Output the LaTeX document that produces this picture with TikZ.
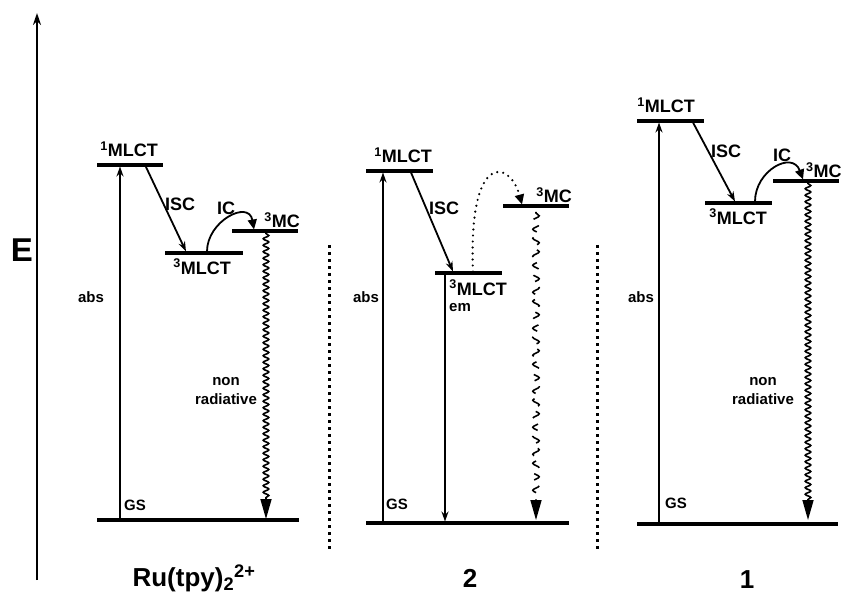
\documentclass[tikz,border=0pt]{standalone}
\usepackage{fontspec}
\setmainfont{Liberation Sans}
\usetikzlibrary{arrows.meta,decorations.pathmorphing}
\begin{document}
\begin{tikzpicture}[x=1pt,y=-1pt,
  level/.style={line width=3.2pt},
  trans/.style={line width=1.8pt,-{Stealth[length=10pt,width=7pt]}},
  wavy/.style={line width=1.6pt, decorate,
    decoration={snake,amplitude=2.8pt,segment length=6.5pt,post length=19pt,pre length=1pt},
    -{Triangle[length=20pt,width=11pt]}},
  icarrow/.style={line width=1.8pt,-{Triangle[length=10pt,width=9pt]}},
  lab/.style={font=\fontsize{18}{18}\selectfont\bfseries, inner sep=0pt},
  small/.style={font=\fontsize{15}{19}\selectfont\bfseries, inner sep=0pt, align=center},
  big/.style={font=\fontsize{26}{26}\selectfont\bfseries, inner sep=0pt},
  sep/.style={line width=3pt, dash pattern=on 3pt off 4pt},
]
\useasboundingbox (0,0) rectangle (841,596);

% energy axis
\coordinate (axB) at (37,580);
\coordinate (axT) at (37,13);
\draw[line width=1.8pt,-{Stealth[length=12pt,width=8pt]}] (axB) -- (axT);
\node[font=\fontsize{33}{33}\selectfont\bfseries, inner sep=0pt] (E) at (22,250) {E};

% separators
\coordinate (s1t) at (329,245); \coordinate (s1b) at (329,552);
\coordinate (s2t) at (597,245); \coordinate (s2b) at (597,552);
\draw[sep] (s1t) -- (s1b);
\draw[sep] (s2t) -- (s2b);

%%%%%%%% Panel 1
\coordinate (a1) at (97,165);  \coordinate (a2) at (163,165);
\coordinate (b1) at (165,253); \coordinate (b2) at (243,253);
\coordinate (c1) at (232,231); \coordinate (c2) at (298,231);
\coordinate (g1) at (97,520);  \coordinate (g2) at (299,520);
\draw[level] (a1) -- (a2);
\draw[level] (b1) -- (b2);
\draw[level] (c1) -- (c2);
\draw[level] (g1) -- (g2);
\node[lab,anchor=south] (A1) at (129,157) {\textsuperscript{1}MLCT};
\node[lab,anchor=north] (B1) at (202,259) {\textsuperscript{3}MLCT};
\node[lab,anchor=south] (C1) at (282,228) {\textsuperscript{3}MC};
\coordinate (abs1b) at (120,518.5); \coordinate (abs1t) at (120,166.5);
\draw[trans] (abs1b) -- (abs1t);
\coordinate (isc1s) at (146,167); \coordinate (isc1e) at (186,251.5);
\draw[trans] (isc1s) -- (isc1e);
\node[lab,anchor=west] (ISC1) at (165,204) {ISC};
\coordinate (ic1s) at (207,251.5); \coordinate (ic1e) at (254,229.5);
\draw[icarrow] (ic1s) to[out=90,in=100,looseness=1.5] (ic1e);
\node[lab] (IC1) at (226,208) {IC};
\coordinate (w1s) at (266,232.5); \coordinate (w1e) at (266,519);
\draw[wavy] (w1s) -- (w1e);
\node[small] (nr1) at (226,391) {non\\radiative};
\node[small] (GS1) at (135,505) {GS};
\node[small] (abs1) at (91,297) {abs};
\node[big] (L1) at (194,578) {Ru(tpy)\textsubscript{2}\textsuperscript{2+}};

%%%%%%%% Panel 2
\coordinate (d1) at (366,171); \coordinate (d2) at (433,171);
\coordinate (e1) at (435,273); \coordinate (e2) at (502,273);
\coordinate (f1) at (503,206); \coordinate (f2) at (569,206);
\coordinate (h1) at (366,523); \coordinate (h2) at (569,523);
\draw[level] (d1) -- (d2);
\draw[level] (e1) -- (e2);
\draw[level] (f1) -- (f2);
\draw[level] (h1) -- (h2);
\node[lab,anchor=south] (D2) at (403,163) {\textsuperscript{1}MLCT};
\node[lab,anchor=north] (E2) at (478,280) {\textsuperscript{3}MLCT};
\node[lab,anchor=south] (F2) at (554,203) {\textsuperscript{3}MC};
\coordinate (abs2b) at (383,521.5); \coordinate (abs2t) at (383,172.5);
\draw[trans] (abs2b) -- (abs2t);
\coordinate (isc2s) at (411,172.5); \coordinate (isc2e) at (453,271.5);
\draw[trans] (isc2s) -- (isc2e);
\node[lab,anchor=west] (ISC2) at (429,208) {ISC};
\coordinate (em2s) at (445,274.5); \coordinate (em2e) at (445,521.5);
\draw[trans] (em2s) -- (em2e);
\node[small] (em2) at (460,308) {em};
\coordinate (dot2s) at (473,271.5); \coordinate (dot2e) at (522,204.5);
\draw[line width=2.4pt, line cap=round, dash pattern=on 0pt off 6pt,
      -{Triangle[length=10pt,width=9pt]}] (dot2s) .. controls (468,150) and (510,160) .. (dot2e);
\coordinate (w2s) at (536,212); \coordinate (w2e) at (536,520);
\draw[wavy, decoration={amplitude=3.2pt,segment length=9pt}, dash pattern=on 12pt off 10pt] (w2s) -- (w2e);
\node[small] (GS2) at (397,504) {GS};
\node[small] (abs2) at (366,297) {abs};
\node[big] (L2) at (470,578) {2};

%%%%%%%% Panel 3
\coordinate (i1) at (637,121); \coordinate (i2) at (704,121);
\coordinate (j1) at (705,203); \coordinate (j2) at (772,203);
\coordinate (k1) at (773,181); \coordinate (k2) at (839,181);
\coordinate (m1) at (637,524); \coordinate (m2) at (838,524);
\draw[level] (i1) -- (i2);
\draw[level] (j1) -- (j2);
\draw[level] (k1) -- (k2);
\draw[level] (m1) -- (m2);
\node[lab,anchor=south] (I3) at (666,113) {\textsuperscript{1}MLCT};
\node[lab,anchor=north] (J3) at (738,209) {\textsuperscript{3}MLCT};
\node[lab,anchor=south west] (K3) at (806,178) {\textsuperscript{3}MC};
\coordinate (abs3b) at (659,522.5); \coordinate (abs3t) at (659,122.5);
\draw[trans] (abs3b) -- (abs3t);
\coordinate (isc3s) at (693,122.5); \coordinate (isc3e) at (735,201.5);
\draw[trans] (isc3s) -- (isc3e);
\node[lab,anchor=west] (ISC3) at (711,151) {ISC};
\coordinate (ic3s) at (755,201.5); \coordinate (ic3e) at (803,179.5);
\draw[icarrow] (ic3s) to[out=90,in=110,looseness=1.5] (ic3e);
\node[lab] (IC3) at (782,155) {IC};
\coordinate (w3s) at (808,182.5); \coordinate (w3e) at (808,520);
\draw[wavy] (w3s) -- (w3e);
\node[small] (nr3) at (763,391) {non\\radiative};
\node[small] (GS3) at (676,503) {GS};
\node[small] (abs3) at (641,297) {abs};
\node[big] (L3) at (747,580) {1};
\end{tikzpicture}
\end{document}
